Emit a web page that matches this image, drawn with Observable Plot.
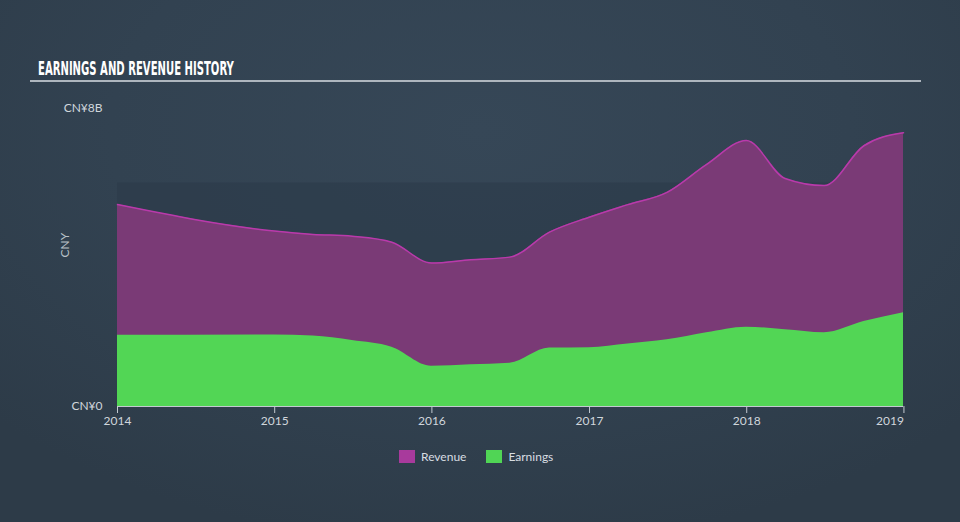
<!DOCTYPE html>
<html>
<head>
<meta charset="utf-8">
<script src="https://cdn.jsdelivr.net/npm/d3@7"></script>
<script src="https://cdn.jsdelivr.net/npm/@observablehq/plot@0.6"></script>
<style>
  html, body { margin: 0; padding: 0; }
  body {
    width: 960px; height: 522px; overflow: hidden; position: relative;
    background: radial-gradient(ellipse 70% 80% at 50% 25%, #364757 0%, #324251 55%, #2d3b48 100%);
    font-family: Lato, "Open Sans", sans-serif;
  }
  #title {
    position: absolute; left: 38px; top: 56px;
    font-family: "Liberation Sans Narrow", "DejaVu Sans Condensed", sans-serif;
    font-weight: bold; font-size: 20px; color: #ffffff; letter-spacing: 0px;
    transform: scaleX(0.56); transform-origin: left center; white-space: nowrap;
  }
  #rule { position: absolute; left: 30px; top: 80px; width: 891px; height: 2px; background: #aeb6be; }
  #chart { position: absolute; left: 0; top: 90px; }
  #legend {
    position: absolute; left: 399px; top: 449px; display: flex; align-items: center;
    font-size: 12px; color: #d8dde2;
  }
  .sw { width: 16px; height: 13px; display: inline-block; margin-right: 6px; }
  .item { display: flex; align-items: center; margin-right: 20px; }
</style>
</head>
<body>
<div id="title">EARNINGS AND REVENUE HISTORY</div>
<div id="rule"></div>
<div id="chart"></div>
<div id="legend">
  <div class="item"><span class="sw" style="background:#a83a9c"></span>Revenue</div>
  <div class="item"><span class="sw" style="background:#50d555"></span>Earnings</div>
</div>
<script>
// Data (CNY billions)
const dates = [
  "2014-01-01","2014-12-31","2015-03-31","2015-06-30","2015-09-30","2015-12-31",
  "2016-03-31","2016-06-30","2016-09-30","2016-12-31","2017-03-31","2017-06-30",
  "2017-09-30","2017-12-31","2018-03-31","2018-06-30","2018-09-30","2018-12-31"
];
const revenue = [5.42, 4.71, 4.62, 4.57, 4.41, 3.85, 3.94, 4.01, 4.68, 5.08, 5.42, 5.75, 6.50, 7.14, 6.12, 5.93, 7.00, 7.35];
const earnings = [1.91, 1.92, 1.89, 1.77, 1.59, 1.08, 1.12, 1.16, 1.57, 1.58, 1.68, 1.79, 1.98, 2.13, 2.06, 1.98, 2.28, 2.52];
const yTicks = [0, 8];
const yTickLabels = ["CN¥0", "CN¥8B"];
const xTickYears = [2014, 2015, 2016, 2017, 2018, 2019];
const shadeTop = [6];
const yLabel = "CNY";

const parse = d3.utcParse("%Y-%m-%d");
const table = dates.map((d, i) => ({date: parse(d), revenue: revenue[i], earnings: earnings[i]}));
const xStart = table[0].date, xEnd = table[table.length - 1].date;
const tickDates = xTickYears.map(y => new Date(Date.UTC(y, 0, 1)));
const midTicks = tickDates.slice(0, -1);
const lastTick = tickDates.slice(-1);
const fmtYear = d3.utcFormat("%Y");

const chart = Plot.plot({
  width: 960,
  height: 340,
  marginLeft: 117,
  marginRight: 57,
  marginTop: 18,
  marginBottom: 24,
  style: {background: "transparent", color: "#d0d6dc", fontFamily: "Lato, 'Open Sans', sans-serif", fontSize: "12px"},
  x: {type: "utc", domain: [xStart, xEnd]},
  y: {domain: [0, 8]},
  marks: [
    Plot.rect(shadeTop, {x1: () => xStart, x2: () => xEnd, y1: 0, y2: d => d, fill: "#2c3a49", fillOpacity: 0.6}),
    Plot.areaY(table, {x: "date", y: "revenue", fill: "#7a3a76", curve: "monotone-x"}),
    Plot.lineY(table, {x: "date", y: "revenue", stroke: "#b93aab", strokeWidth: 1.5, curve: "monotone-x"}),
    Plot.areaY(table, {x: "date", y: "earnings", fill: "#52d655", curve: "monotone-x"}),
    Plot.ruleY([0], {stroke: "#c3cad1", strokeWidth: 1.2}),
    Plot.axisX(midTicks, {ticks: midTicks, tickFormat: fmtYear, tickSize: 7, tickPadding: 3, stroke: "#c3cad1", fill: "#d0d6dc"}),
    Plot.axisX(lastTick, {ticks: lastTick, tickFormat: fmtYear, tickSize: 7, tickPadding: 3, stroke: "#c3cad1", fill: "#d0d6dc", textAnchor: "end"}),
    Plot.axisY(yTicks, {ticks: yTicks, tickFormat: (d, i) => yTickLabels[yTicks.indexOf(d)], tickSize: 0, tickPadding: 15, fill: "#d0d6dc", label: null}),
    Plot.text([yLabel], {frameAnchor: "left", text: d => d, rotate: -90, dx: -52, fill: "#b8c0c8", fontSize: 12})
  ]
});
document.getElementById("chart").appendChild(chart);
</script>
</body>
</html>
